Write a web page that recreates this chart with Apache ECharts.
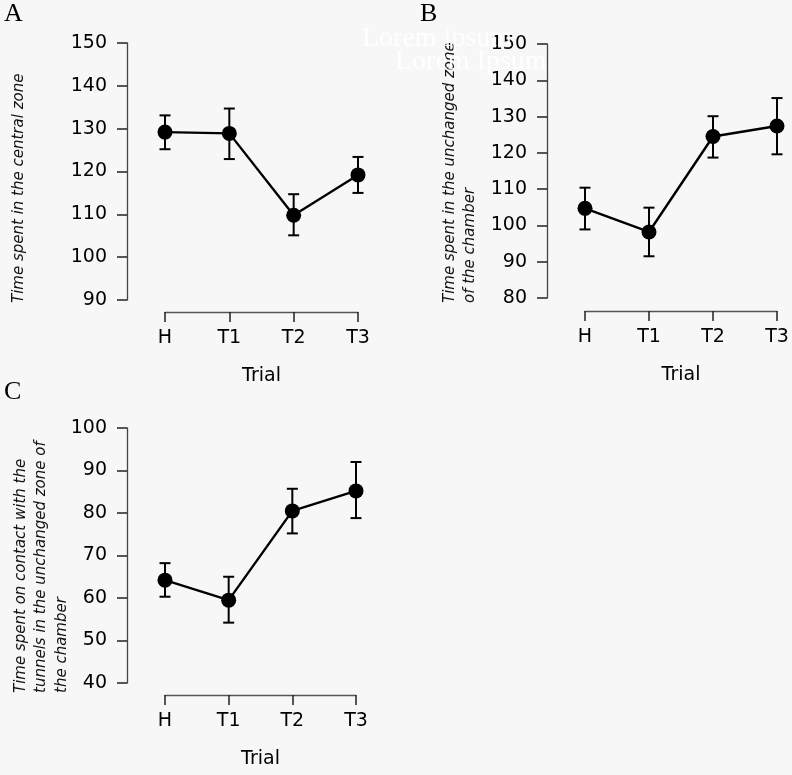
<!DOCTYPE html>
<html>
<head>
<meta charset="utf-8">
<script src="https://cdn.jsdelivr.net/npm/echarts@6/dist/echarts.min.js"></script>
<style>
html,body{margin:0;padding:0;background:#f7f7f7;}
#c{width:792px;height:775px;}
</style>
</head>
<body>
<div id="c"></div>
<script>
// ---- data ----
const categories = ['H', 'T1', 'T2', 'T3'];

const meanA  = [129.2, 128.9, 109.8, 119.2];
const lowerA = [125.2, 122.9, 105.1, 115.0];
const upperA = [133.1, 134.7, 114.7, 123.4];

const meanB  = [104.7, 98.2, 124.5, 127.4];
const lowerB = [98.9, 91.5, 118.7, 119.6];
const upperB = [110.4, 104.9, 130.1, 135.1];

const meanC  = [64.2, 59.5, 80.5, 85.2];
const lowerC = [60.3, 54.2, 75.2, 78.8];
const upperC = [68.2, 65.0, 85.7, 92.0];

const yRangeA = [90, 150];
const yRangeB = [80, 150];
const yRangeC = [40, 100];

const xTitle = 'Trial';
const yTitleA = ['Time spent in the central zone'];
const yTitleB = ['Time spent in the unchanged zone', 'of the chamber'];
const yTitleC = ['Time spent on contact with the', 'tunnels in the unchanged zone of', 'the chamber'];
const panelLetters = ['A', 'B', 'C'];
const watermark = ['Lorem ipsum', 'Lorem Ipsum'];

// ---- chart ----
const chart = echarts.init(document.getElementById('c'));
const FONT = '"DejaVu Sans", sans-serif';

const grids = [
  {left: 165, top: 43, width: 193, height: 257, xOff: 12, yOff: 38},
  {left: 585, top: 44, width: 192, height: 254, xOff: 13, yOff: 38},
  {left: 165, top: 428, width: 191, height: 255, xOff: 12, yOff: 38}
];
const ranges = [yRangeA, yRangeB, yRangeC];
const means = [meanA, meanB, meanC];
const lowers = [lowerA, lowerB, lowerC];
const uppers = [upperA, upperB, upperC];

function errRender(params, api) {
  const x = api.value(0);
  const lo = api.coord([x, api.value(1)]);
  const hi = api.coord([x, api.value(2)]);
  const hw = 5.5;
  const st = {stroke: '#000', lineWidth: 2};
  return {
    type: 'group',
    children: [
      {type: 'line', shape: {x1: lo[0], y1: lo[1], x2: hi[0], y2: hi[1]}, style: st},
      {type: 'line', shape: {x1: lo[0] - hw, y1: lo[1], x2: lo[0] + hw, y2: lo[1]}, style: st},
      {type: 'line', shape: {x1: hi[0] - hw, y1: hi[1], x2: hi[0] + hw, y2: hi[1]}, style: st}
    ]
  };
}

const option = {
  backgroundColor: '#f7f7f7',
  animation: false,
  grid: grids.map(g => ({left: g.left, top: g.top, width: g.width, height: g.height})),
  xAxis: grids.map((g, i) => ({
    type: 'category', gridIndex: i, data: categories, boundaryGap: false,
    offset: g.xOff,
    name: xTitle, nameLocation: 'middle', nameGap: 55,
    nameTextStyle: {fontFamily: FONT, fontSize: 19, color: '#000'},
    axisLine: {show: true, lineStyle: {color: '#555', width: 1.3}},
    axisTick: {show: true, alignWithLabel: true, length: 10, lineStyle: {color: '#222', width: 1.5}},
    axisLabel: {fontFamily: FONT, fontSize: 19, color: '#000', margin: 17},
    splitLine: {show: false}
  })),
  yAxis: grids.map((g, i) => ({
    type: 'value', gridIndex: i, min: ranges[i][0], max: ranges[i][1], interval: 10,
    offset: g.yOff,
    axisLine: {show: true, lineStyle: {color: '#444', width: 1.3}},
    axisTick: {show: true, length: 10, lineStyle: {color: '#222', width: 1.5}},
    axisLabel: {fontFamily: FONT, fontSize: 19, color: '#000', margin: 20},
    splitLine: {show: false}
  })),
  series: []
};

for (let i = 0; i < 3; i++) {
  option.series.push({
    type: 'custom', xAxisIndex: i, yAxisIndex: i,
    renderItem: errRender,
    data: categories.map((c, k) => [k, lowers[i][k], uppers[i][k]]),
    z: 2
  });
  option.series.push({
    type: 'line', xAxisIndex: i, yAxisIndex: i,
    data: means[i],
    symbol: 'circle', symbolSize: 15,
    lineStyle: {color: '#000', width: 2.4},
    itemStyle: {color: '#000'},
    z: 3
  });
}

const graphics = [];
function rotTitle(lines, xs, yBottom) {
  lines.forEach((t, k) => {
    graphics.push({
      type: 'text', x: xs[k], y: yBottom, rotation: Math.PI / 2,
      style: {text: t, fill: '#111', font: 'italic 15px "DejaVu Sans"',
              align: 'left', verticalAlign: 'middle', textAlign: 'left', textVerticalAlign: 'middle'}
    });
  });
}
rotTitle(yTitleA, [19], 303);
rotTitle(yTitleB, [450, 470], 303);
rotTitle(yTitleC, [21, 41.5, 62], 693);

const letterPos = [[4, 14], [420, 14], [4, 392]];
panelLetters.forEach((L, k) => {
  graphics.push({
    type: 'text', x: letterPos[k][0], y: letterPos[k][1],
    style: {text: L, fill: '#000', font: '26px "Liberation Serif"',
            align: 'left', verticalAlign: 'middle', textAlign: 'left', textVerticalAlign: 'middle'}
  });
});

const wmPos = [[362, 39], [395, 62]];
watermark.forEach((t, k) => {
  graphics.push({
    type: 'text', x: wmPos[k][0], y: wmPos[k][1], z: 100,
    style: {text: t, fill: '#ffffff', opacity: 0.9, font: '28px "Liberation Serif"',
            align: 'left', verticalAlign: 'middle', textAlign: 'left', textVerticalAlign: 'middle'}
  });
});

option.graphic = {elements: graphics};
chart.setOption(option);
</script>
</body>
</html>
